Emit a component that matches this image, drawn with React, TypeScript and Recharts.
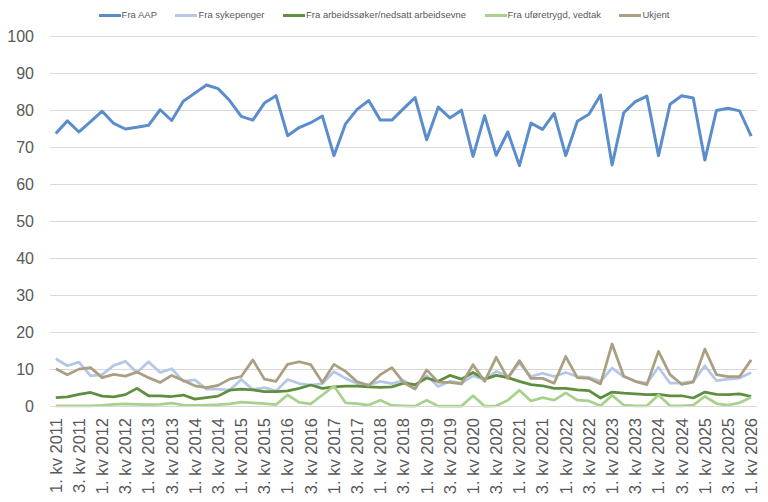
import React from "react";
import { LineChart, Line, XAxis, YAxis, CartesianGrid, Legend } from "recharts";

const categories: string[] = [
  "1. kv 2011", "2. kv 2011", "3. kv 2011", "4. kv 2011",
  "1. kv 2012", "2. kv 2012", "3. kv 2012", "4. kv 2012",
  "1. kv 2013", "2. kv 2013", "3. kv 2013", "4. kv 2013",
  "1. kv 2014", "2. kv 2014", "3. kv 2014", "4. kv 2014",
  "1. kv 2015", "2. kv 2015", "3. kv 2015", "4. kv 2015",
  "1. kv 2016", "2. kv 2016", "3. kv 2016", "4. kv 2016",
  "1. kv 2017", "2. kv 2017", "3. kv 2017", "4. kv 2017",
  "1. kv 2018", "2. kv 2018", "3. kv 2018", "4. kv 2018",
  "1. kv 2019", "2. kv 2019", "3. kv 2019", "4. kv 2019",
  "1. kv 2020", "2. kv 2020", "3. kv 2020", "4. kv 2020",
  "1. kv 2021", "2. kv 2021", "3. kv 2021", "4. kv 2021",
  "1. kv 2022", "2. kv 2022", "3. kv 2022", "4. kv 2022",
  "1. kv 2023", "2. kv 2023", "3. kv 2023", "4. kv 2023",
  "1. kv 2024", "2. kv 2024", "3. kv 2024", "4. kv 2024",
  "1. kv 2025", "2. kv 2025", "3. kv 2025", "4. kv 2025",
  "1. kv 2026",
];

const fraAAP: number[] = [
  73.8, 77.2, 74.2, 77.0, 79.8, 76.5, 75.0, 75.5, 76.0, 80.2, 77.3, 82.5,
  84.7, 86.9, 85.9, 82.7, 78.4, 77.4, 82.0, 84.0, 73.2, 75.4, 76.7, 78.5,
  67.8, 76.4, 80.3, 82.7, 77.4, 77.4, 80.5, 83.5, 72.1, 80.9, 78.0, 80.1,
  67.6, 78.6, 67.9, 74.2, 65.1, 76.6, 74.9, 79.2, 67.8, 77.1, 79.0, 84.2,
  65.3, 79.4, 82.4, 83.9, 67.8, 81.7, 84.0, 83.4, 66.6, 80.0, 80.6, 79.9,
  73.1,
];

const fraSykepenger: number[] = [
  12.9, 11.0, 12.0, 8.3, 8.6, 11.1, 12.2, 9.2, 12.1, 9.2, 10.2, 6.8,
  7.2, 4.7, 4.7, 4.4, 7.3, 4.6, 5.1, 4.2, 7.3, 6.2, 5.8, 6.2,
  9.4, 7.6, 6.2, 5.8, 6.8, 6.2, 7.0, 5.4, 8.3, 5.4, 6.8, 6.3,
  8.3, 7.2, 9.5, 8.1, 11.7, 8.1, 9.0, 8.1, 9.2, 8.1, 7.9, 6.8,
  10.4, 8.1, 6.8, 6.3, 10.6, 6.3, 6.3, 6.8, 11.0, 7.0, 7.4, 7.7,
  9.2,
];

const fraArbeidssoker: number[] = [
  2.4, 2.6, 3.3, 3.8, 2.8, 2.6, 3.2, 4.9, 2.9, 2.9, 2.7, 3.1,
  2.0, 2.4, 2.8, 4.4, 4.7, 4.5, 4.0, 4.0, 4.2, 4.9, 5.8, 4.9,
  5.3, 5.5, 5.5, 5.3, 5.2, 5.3, 6.3, 5.9, 7.7, 6.8, 8.4, 7.4,
  9.2, 7.4, 8.4, 7.8, 6.8, 5.9, 5.6, 4.9, 4.9, 4.5, 4.3, 2.3,
  3.9, 3.6, 3.4, 3.2, 3.3, 2.9, 2.9, 2.3, 3.9, 3.3, 3.2, 3.4,
  2.7,
];

const fraUforetrygd: number[] = [
  0.2, 0.2, 0.2, 0.2, 0.3, 0.6, 0.7, 0.6, 0.5, 0.6, 0.9, 0.4,
  0.3, 0.4, 0.5, 0.7, 1.2, 1.0, 0.8, 0.5, 3.1, 1.1, 0.7, 3.1,
  5.5, 1.0, 0.8, 0.4, 1.7, 0.3, 0.2, 0.1, 1.7, 0.1, 0.1, 0.1,
  2.9, 0.1, 0.2, 1.7, 4.4, 1.5, 2.4, 1.7, 3.7, 1.7, 1.5, 0.2,
  3.0, 0.4, 0.2, 0.2, 3.1, 0.2, 0.2, 0.4, 2.7, 0.8, 0.4, 1.0,
  2.5,
];

const ukjent: number[] = [
  10.2, 8.6, 10.1, 10.5, 7.8, 8.7, 8.2, 9.3, 7.8, 6.5, 8.4, 7.0,
  5.6, 5.1, 5.7, 7.4, 8.1, 12.6, 7.4, 6.8, 11.4, 12.1, 11.3, 6.5,
  11.4, 9.5, 6.7, 5.7, 8.6, 10.5, 6.5, 4.7, 9.9, 6.6, 6.5, 6.1,
  11.3, 6.8, 13.3, 7.6, 12.4, 7.6, 7.6, 6.3, 13.5, 7.8, 7.6, 6.1,
  16.9, 8.2, 6.8, 5.9, 14.9, 8.6, 6.0, 6.6, 15.5, 8.6, 8.1, 8.1,
  12.6,
];

const yTicks: number[] = [0, 10, 20, 30, 40, 50, 60, 70, 80, 90, 100];

const seriesNames: string[] = [
  "Fra AAP",
  "Fra sykepenger",
  "Fra arbeidssøker/nedsatt arbeidsevne",
  "Fra uføretrygd, vedtak",
  "Ukjent",
];
const seriesKeys: string[] = ["aap", "syke", "arb", "ufor", "ukjent"];
const seriesColors: string[] = ["#5b8ccc", "#b4c7e7", "#5f8f3e", "#a9d18e", "#ab9f82"];
const seriesWidths: number[] = [3, 2.75, 2.75, 2.75, 2.75];

const data = categories.map((c, i) => ({
  kvartal: c,
  aap: fraAAP[i],
  syke: fraSykepenger[i],
  arb: fraArbeidssoker[i],
  ufor: fraUforetrygd[i],
  ukjent: ukjent[i],
}));

const FONT = "'Liberation Sans', Arial, Helvetica, sans-serif";
const TEXT = "#595959";

const XTick = (props: any) => {
  const { x, y, payload } = props;
  return (
    <text
      x={x}
      y={y}
      transform={`rotate(-90, ${x}, ${y})`}
      textAnchor="end"
      dy="0.355em"
      fill={TEXT}
      fontSize={16.5}
      fontFamily={FONT}
    >
      {payload.value}
    </text>
  );
};

const renderLegend = (props: any) => {
  const payload = [...(props.payload || [])].sort(
    (a: any, b: any) => seriesNames.indexOf(a.value) - seriesNames.indexOf(b.value)
  );
  return (
    <div
      style={{
        display: "flex",
        justifyContent: "center",
        alignItems: "center",
        fontFamily: FONT,
        fontSize: 9.5,
        color: TEXT,
        lineHeight: "12px",
        whiteSpace: "nowrap",
      }}
    >
      {payload.map((entry: any, i: number) => (
        <div
          key={i}
          style={{
            display: "flex",
            alignItems: "center",
            marginRight: i === payload.length - 1 ? 0 : 18.5,
          }}
        >
          <span
            style={{
              display: "inline-block",
              width: 22,
              height: 3,
              background: entry.color,
              marginRight: 1,
            }}
          />
          <span>{entry.value}</span>
        </div>
      ))}
    </div>
  );
};

export default function App() {
  return (
    <div style={{ width: 768, height: 502, position: "relative", background: "#fff" }}>
      <style>{`body{margin:0;background:#fff;}`}</style>
      <LineChart
        width={768}
        height={502}
        data={data}
        margin={{ top: 36.5, right: 11, bottom: 0, left: 0 }}
        style={{ fontFamily: FONT }}
      >
        <CartesianGrid horizontal vertical={false} stroke="#d9d9d9" strokeWidth={1} />
        <XAxis
          dataKey="kvartal"
          height={95.5}
          interval={1}
          tickLine={false}
          axisLine={{ stroke: "#d9d9d9", strokeWidth: 1 }}
          tickMargin={5.5}
          padding={{ left: 5.8, right: 5.8 }}
          tick={<XTick />}
        />
        <YAxis
          width={50}
          domain={[0, 100]}
          ticks={yTicks}
          interval={0}
          axisLine={false}
          tickLine={false}
          tickMargin={10}
          tick={{ fill: TEXT, fontSize: 16, fontFamily: FONT }}
        />
        <Legend
          layout="horizontal"
          verticalAlign="middle"
          align="center"
          itemSorter={null as any}
          wrapperStyle={{ top: 9, left: 0, width: 768 }}
          content={renderLegend}
        />
        {seriesKeys.map((k, i) => (
          <Line
            key={k}
            type="linear"
            dataKey={k}
            name={seriesNames[i]}
            stroke={seriesColors[i]}
            strokeWidth={seriesWidths[i]}
            strokeLinejoin="round"
            dot={false}
            activeDot={false}
            isAnimationActive={false}
          />
        ))}
      </LineChart>
    </div>
  );
}
